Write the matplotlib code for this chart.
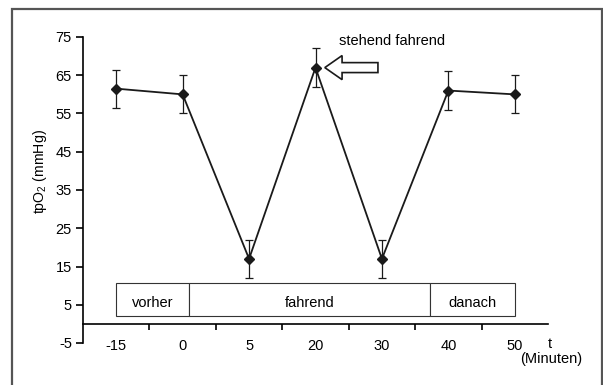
import matplotlib
matplotlib.use('Agg')
import matplotlib.pyplot as plt
from matplotlib.patches import Rectangle, FancyArrow

plt.rcParams['font.family'] = ['Liberation Sans', 'DejaVu Sans']
plt.rcParams['mathtext.fontset'] = 'custom'
plt.rcParams['mathtext.rm'] = 'Liberation Sans'
plt.rcParams['mathtext.it'] = 'Liberation Sans'
plt.rcParams['axes.unicode_minus'] = False

# Zeitpunkte (Minuten) und Messwerte
zeit_labels = ['-15', '0', '5', '20', '30', '40', '50']
tpo2 = [61.5, 60, 17, 67, 17, 61, 60]
fehler = [5, 5, 5, 5, 5, 5, 5]

# Phasen: (Name, Start, Ende) in Kategorie-Index
phasen = [('vorher', 0, 1.1), ('fahrend', 1.1, 4.72), ('danach', 4.72, 6.0)]

fig = plt.figure(figsize=(6.03, 3.85), dpi=100)
ax = fig.add_axes([83/603, 1-343/385, 465/603, 306/385])

x = list(range(len(tpo2)))
ax.errorbar(x, tpo2, yerr=fehler, color='#1a1a1a', lw=1.3, marker='D', ms=5.5,
            ecolor='#1a1a1a', elinewidth=0.9, capsize=3, capthick=0.9, zorder=3)

ax.set_xlim(-0.5, 6.5)
ax.set_ylim(-5, 75)
ax.set_yticks(range(-5, 76, 10))
ax.spines['top'].set_visible(False)
ax.spines['right'].set_visible(False)
ax.spines['bottom'].set_position(('data', 0))
ax.spines['left'].set_linewidth(1.2)
ax.spines['bottom'].set_linewidth(1.2)
ax.tick_params(axis='y', direction='out', length=5, width=1.2, labelsize=10.5, pad=3)
ax.set_xticks(x)
ax.set_xticklabels(zeit_labels)
ax.tick_params(axis='x', which='major', length=0, labelsize=10.5, pad=11)
ax.set_xticks([i + 0.5 for i in range(6)], minor=True)
ax.tick_params(axis='x', which='minor', direction='out', length=4, width=1.2)

for name, start, ende in phasen:
    ax.add_patch(Rectangle((start, 2), ende - start, 8.8, facecolor='white',
                           edgecolor='#333333', lw=0.8, zorder=2))
    ax.text((start + ende) / 2, 5.5, name, ha='center', va='center', fontsize=10.5, zorder=4)

ax.add_patch(FancyArrow(3.94, 67, -0.8, 0, width=2.6, head_width=6.3, head_length=0.26,
                        length_includes_head=True, facecolor='white', edgecolor='#1a1a1a',
                        lw=1.2, zorder=4))
ax.text(3.36, 74, 'stehend fahrend', ha='left', va='center', fontsize=10.5)

fig.text(40/603, 1-172/385, r'tpO$_2$ (mmHg)', rotation=90, ha='center', va='center', fontsize=10.2)
fig.text(550/603, 1-344/385, 't', ha='center', va='center', fontsize=10.5)
fig.text(551/603, 1-359/385, '(Minuten)', ha='center', va='center', fontsize=10.5)

fig.add_artist(Rectangle((12/603, -0.1), 590/603, 1.1 - 9/385, transform=fig.transFigure,
                         fill=False, edgecolor='#555555', lw=1.6))

fig.savefig('out.png', dpi=100)
